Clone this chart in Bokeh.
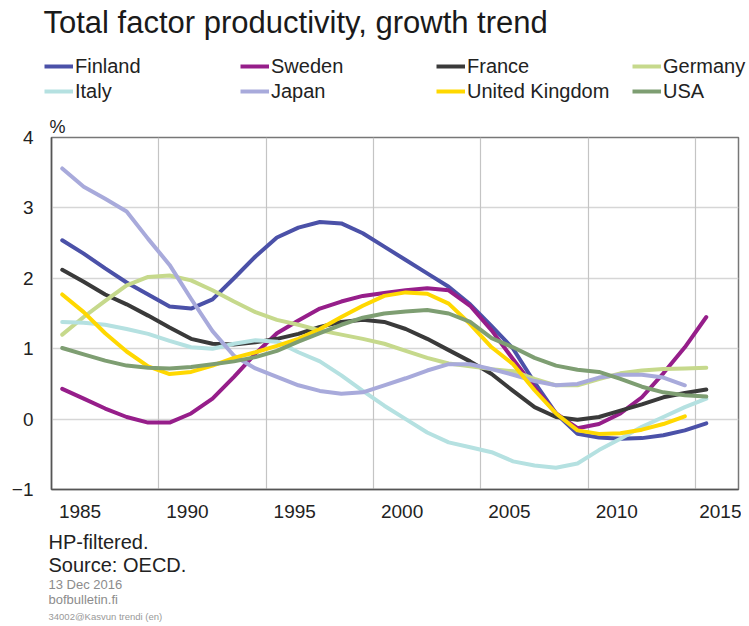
from bokeh.plotting import figure
from bokeh.models import (Range1d, LinearAxis, FixedTicker, Grid, Label, Legend,
                          LegendItem, ColumnDataSource)
from bokeh.transform import dodge
from bokeh.embed import file_html
from bokeh.resources import INLINE

nan = float("nan")

years = list(range(1985, 2016))
finland = [2.54, 2.35, 2.14, 1.94, 1.77, 1.60, 1.57, 1.70, 2.00, 2.31, 2.58, 2.72, 2.80, 2.78, 2.64,
           2.45, 2.26, 2.07, 1.88, 1.63, 1.32, 1.00, 0.52, 0.08, -0.21, -0.26, -0.28, -0.27, -0.23, -0.16, -0.06]
sweden = [0.43, 0.29, 0.15, 0.03, -0.05, -0.05, 0.08, 0.29, 0.60, 0.93, 1.22, 1.40, 1.57, 1.67, 1.75,
          1.79, 1.83, 1.86, 1.83, 1.61, 1.26, 0.85, 0.45, 0.08, -0.13, -0.07, 0.08, 0.31, 0.65, 1.02, 1.45]
france = [2.12, 1.95, 1.77, 1.63, 1.47, 1.30, 1.14, 1.07, 1.06, 1.09, 1.14, 1.21, 1.31, 1.38, 1.41,
          1.38, 1.28, 1.14, 0.98, 0.82, 0.64, 0.40, 0.17, 0.03, -0.01, 0.03, 0.12, 0.21, 0.31, 0.37, 0.42]
germany = [1.20, 1.45, 1.68, 1.90, 2.02, 2.04, 1.97, 1.83, 1.67, 1.52, 1.41, 1.34, 1.26, 1.20, 1.14,
           1.07, 0.97, 0.87, 0.79, 0.75, 0.71, 0.68, 0.57, 0.48, 0.48, 0.57, 0.65, 0.69, 0.71, 0.72, 0.73]
italy = [1.38, 1.37, 1.34, 1.28, 1.21, 1.11, 1.02, 1.00, 1.07, 1.12, 1.10, 0.95, 0.82, 0.62, 0.40,
         0.19, 0.00, -0.19, -0.33, -0.40, -0.47, -0.60, -0.66, -0.69, -0.63, -0.44, -0.28, -0.11, 0.03, 0.17, 0.29]
japan = [3.56, 3.30, 3.13, 2.95, 2.56, 2.19, 1.71, 1.25, 0.90, 0.72, 0.60, 0.48, 0.40, 0.36, 0.38,
         0.48, 0.58, 0.69, 0.78, 0.78, 0.71, 0.63, 0.54, 0.48, 0.50, 0.59, 0.63, 0.63, 0.59, 0.48, nan]
uk = [1.77, 1.52, 1.22, 0.96, 0.75, 0.64, 0.67, 0.76, 0.87, 0.95, 1.04, 1.14, 1.28, 1.45, 1.61,
      1.75, 1.80, 1.78, 1.64, 1.35, 1.02, 0.78, 0.41, 0.08, -0.16, -0.21, -0.20, -0.15, -0.07, 0.04, nan]
usa = [1.01, 0.92, 0.83, 0.76, 0.73, 0.72, 0.74, 0.78, 0.82, 0.88, 0.97, 1.10, 1.22, 1.34, 1.44,
       1.50, 1.53, 1.55, 1.50, 1.38, 1.15, 1.02, 0.87, 0.76, 0.70, 0.67, 0.57, 0.46, 0.38, 0.34, 0.32]

series_names = ["Finland", "Sweden", "France", "Germany", "Italy", "Japan", "United Kingdom", "USA"]
series_values = [finland, sweden, france, germany, italy, japan, uk, usa]
series_colors = ["#4b51a8", "#961e8a", "#3a3a3a", "#c6d98c", "#b5e1e1", "#a8aadb", "#ffd800", "#7e9e72"]

x_ticks = [1985, 1990, 1995, 2000, 2005, 2010, 2015]
y_ticks = [-1, 0, 1, 2, 3, 4]

title_text = "Total factor productivity, growth trend"
unit_text = "%"
note_lines = ["HP-filtered.", "Source: OECD."]
date_text = "13 Dec 2016"
site_text = "bofbulletin.fi"
code_text = "34002@Kasvun trendi (en)"

FONT = "Liberation Sans"
W, H = 733, 610          # chart layer (inside the 8px page margin)
TW, TH = 741, 626        # text layer (from the page top, right of the left margin)
CHART_POS = {"position": "absolute", "left": "8px", "top": "8px"}
TEXT_POS = {"position": "absolute", "left": "8px", "top": "0px"}

data = {"year": years}
for n, v in zip(series_names, series_values):
    data[n] = v
src = ColumnDataSource(data=data)

# ---------- text layer (page coordinates, y downwards) ----------
t = figure(width=TW, height=TH, output_backend="svg", toolbar_location=None,
           x_range=Range1d(0, TW), y_range=Range1d(TH, 0),
           x_axis_type=None, y_axis_type=None, styles=TEXT_POS,
           min_border_left=0, min_border_right=0, min_border_top=0, min_border_bottom=0)
t.outline_line_color = None


def add_text(txt, x, y, size, color="#222222"):
    t.add_layout(Label(x=x, y=y, text=txt, text_font=FONT, text_font_size=size,
                       text_color=color, text_baseline="middle", text_align="left"))


add_text(title_text, 35, 22, "31px", "#1a1a1a")
add_text(unit_text, 41, 126, "18px")
add_text(note_lines[0], 40, 541.5, "20px")
add_text(note_lines[1], 40, 564, "20px")
add_text(date_text, 40, 583.5, "13px", "#8c8c8c")
add_text(site_text, 40, 599, "13px", "#8c8c8c")
add_text(code_text, 40, 616, "9.5px", "#999999")

# legend keys: the same series, which fall outside this layer's visible range
key_renderers = [t.line(x="year", y=n, source=src, line_color=c, line_width=4)
                 for n, c in zip(series_names, series_colors)]
legend = Legend(items=[LegendItem(label=n, renderers=[r]) for n, r in zip(series_names, key_renderers)],
                ncols=4, orientation="horizontal", location=(36, 523),
                glyph_width=29, glyph_height=24, label_standoff=2, label_width=164,
                label_height=24, spacing=1, padding=0, margin=0,
                border_line_color=None, background_fill_alpha=0,
                label_text_font=FONT, label_text_font_size="20px", label_text_color="#222222")
t.add_layout(legend)

# ---------- chart layer ----------
p = figure(width=W, height=H, output_backend="svg", toolbar_location=None,
           x_range=Range1d(1985, 2017), y_range=Range1d(-1, 4), x_axis_type=None, styles=CHART_POS,
           min_border_left=40, min_border_right=3, min_border_top=129, min_border_bottom=129)
p.background_fill_alpha = 0
p.border_fill_alpha = 0
p.outline_line_color = "#777777"
p.outline_line_width = 1.5

ya = p.yaxis[0]
ya.ticker = FixedTicker(ticks=y_ticks)
ya.major_tick_line_color = None
ya.minor_tick_line_color = None
ya.major_tick_out = 0
ya.major_tick_in = 0
ya.axis_line_color = "#555555"
ya.axis_line_width = 1.5
ya.major_label_text_font = FONT
ya.major_label_text_font_size = "19px"
ya.major_label_text_color = "#222222"
ya.major_label_standoff = 18
p.ygrid.ticker = FixedTicker(ticks=y_ticks)
p.ygrid.grid_line_color = "#d6d6d6"
p.ygrid.grid_line_width = 1.5

p.add_layout(Grid(dimension=0, ticker=FixedTicker(ticks=x_ticks),
                  grid_line_color="#c4c4c4", grid_line_width=1.2))
p.extra_x_ranges = {"lab": Range1d(1985 - 1.33, 2017 - 1.33)}
xa = LinearAxis(x_range_name="lab", ticker=FixedTicker(ticks=x_ticks))
xa.major_tick_line_color = None
xa.minor_tick_line_color = None
xa.major_tick_out = 0
xa.major_tick_in = 0
xa.axis_line_color = "#555555"
xa.axis_line_width = 1.5
xa.major_label_text_font = FONT
xa.major_label_text_font_size = "19px"
xa.major_label_text_color = "#222222"
xa.major_label_standoff = 15
p.add_layout(xa, "below")

for n, c in zip(series_names, series_colors):
    p.line(x=dodge("year", 0.5, range=p.x_range), y=n, source=src,
           line_color=c, line_width=4, line_join="round", line_cap="round")

open("out.html", "w").write(file_html([t, p], INLINE))
